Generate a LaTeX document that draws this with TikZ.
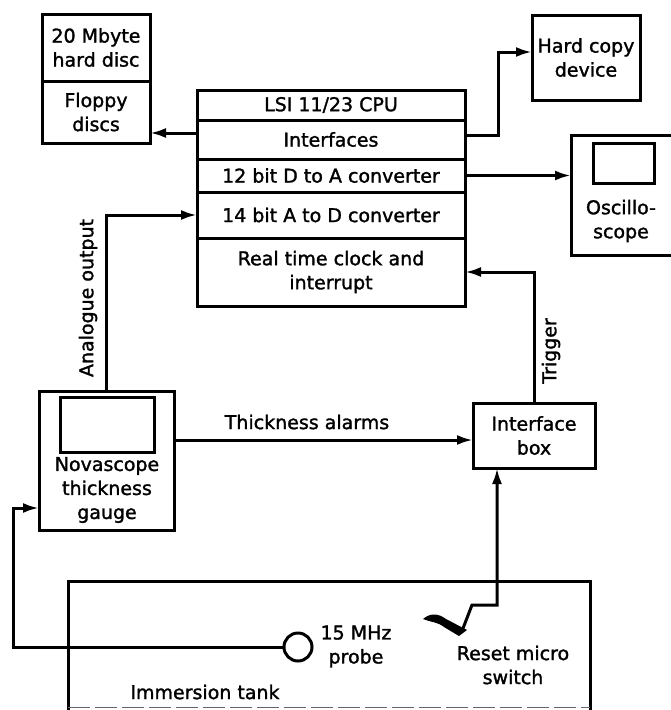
\documentclass[tikz,border=0pt]{standalone}
\usepackage{fontspec}
\setmainfont{DejaVu Sans}[FakeBold=1.5]
\usetikzlibrary{arrows.meta}
\begin{document}
\begin{tikzpicture}[x=1pt,y=-1pt,
  txt/.style={font=\fontsize{19}{24}\selectfont},
  box/.style={draw, line width=3pt, rectangle, inner sep=0pt, outer sep=0pt, align=center, txt},
  lbl/.style={inner sep=0pt, align=center, txt},
  conn/.style={line width=3pt},
  arr/.style={conn, -{Latex[length=16pt,width=10pt]}},
]
\useasboundingbox (0,0) rectangle (671,710);

% disc unit
\node[box, minimum width=108, minimum height=67] (hdd) at (96,47.5) {20 Mbyte\\hard disc};
\node[box, minimum width=108, minimum height=62] (floppy) at (96,112) {Floppy\\discs};

% CPU stack
\node[box, minimum width=268, minimum height=30] (cpulsi) at (331,105) {LSI 11/23 CPU};
\node[box, minimum width=268, minimum height=39] (cpuif) at (331,139.5) {Interfaces};
\node[box, minimum width=268, minimum height=33] (cpuda) at (331,175.5) {12 bit D to A converter};
\node[box, minimum width=268, minimum height=46] (cpuad) at (331,215) {14 bit A to D converter};
\node[box, minimum width=268, minimum height=68] (cpurtc) at (331,272) {Real time clock and\\interrupt};

% hard copy
\node[box, minimum width=108, minimum height=85] (hcopy) at (586,57.5) {Hard copy\\device};

% oscilloscope (right side cut by the page)
\node[rectangle, inner sep=0pt, outer sep=0pt, minimum width=110, minimum height=120] (osc) at (626,195) {};
\draw[conn] (osc.north east) -- (osc.north west) -- (osc.south west) -- (osc.south east);
\node[box, minimum width=61, minimum height=40] (oscscreen) at (623.5,163) {};
\node[lbl] (osctext) at (621,221) {Oscillo-\\scope};

% Novascope
\node[box, minimum width=135, minimum height=139] (nova) at (106.5,460.5) {};
\node[box, minimum width=94, minimum height=55] (novascreen) at (107,424.5) {};
\node[lbl] (novatext) at (107,490) {Novascope\\thickness\\gauge};

% interface box
\node[box, minimum width=122, minimum height=65] (ifbox) at (534,435.5) {Interface\\box};

% immersion tank
\coordinate (tankbl) at (68,712);
\coordinate (tanktl) at (68,581);
\coordinate (tanktr) at (590,581);
\coordinate (tankbr) at (590,712);
\draw[conn] (tankbl) -- (tanktl) -- (tanktr) -- (tankbr);
\draw[line width=1pt, dash pattern=on 22pt off 5pt, black!60] (68,707) -- (590,707);
\node[lbl] (tanklbl) at (205,692) {Immersion tank};

% probe
\node[draw, conn, circle, minimum size=28, inner sep=0pt, outer sep=0pt] (probe) at (298,647) {};
\node[lbl] (probelbl) at (356,646.5) {15 MHz\\probe};

% reset micro switch
\fill (423,619) .. controls (430,613) and (438,613) .. (446,619) -- (467,630) -- (459,636)
      -- (444,627) .. controls (438,622) and (430,622) .. (423,619) -- cycle;
\coordinate (lever) at (462,631);
\coordinate (swbend1) at (472,605);
\coordinate (swbend2) at (497,605);
\node[lbl] (switchlbl) at (513,665) {Reset micro\\switch};

% connectors
\draw[arr] (cpuif.west |- 0,133) -- (floppy.east |- 0,133);
\coordinate (hcbend1) at (498,135);
\coordinate (hcbend2) at (498,52);
\draw[arr] (cpuif.east |- hcbend1) -- (hcbend1) -- (hcbend2) -- (hcopy.west |- hcbend2);
\draw[arr] (cpuda.east) -- (osc.west |- cpuda.east);
\draw[arr] (nova.north) |- (cpuad.west);
\draw[arr] (nova.east |- 0,440) -- (ifbox.west |- 0,440);
\draw[arr] (ifbox.north) |- (cpurtc.east);
\coordinate (pbend) at (13,647);
\draw[arr] (probe.west) -- (pbend) -- (pbend |- 0,508) -- (nova.west |- 0,508);
\draw[arr] (lever) -- (swbend1) -- (swbend2) -- (ifbox.south -| swbend2);

% connector labels
\node[lbl, rotate=90] (anlbl) at (88,298) {Analogue output};
\node[lbl, rotate=90] (triglbl) at (551,351) {Trigger};
\node[lbl] (thklbl) at (307,422) {Thickness alarms};
\end{tikzpicture}
\end{document}
